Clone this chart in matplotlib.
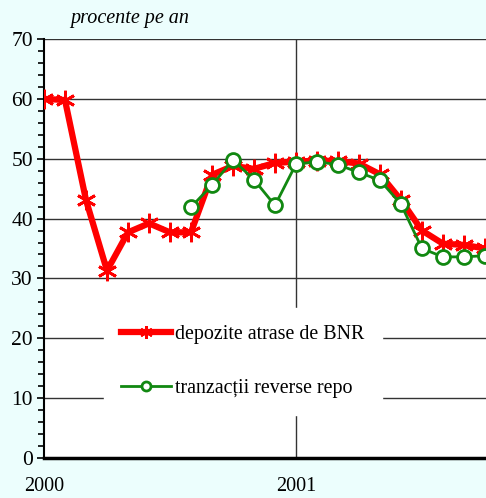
import numpy as np
import matplotlib.pyplot as plt
from matplotlib.ticker import MultipleLocator

plt.rcParams['font.family'] = ['Liberation Serif', 'DejaVu Serif']

# months since Jan 2000
luni = list(range(22))
depozite = [60.0, 59.8, 43.1, 31.3, 37.7, 39.2, 37.7, 37.7, 47.3, 48.8, 48.3,
            49.3, 49.5, 49.7, 49.6, 49.2, 47.4, 43.1, 38.0, 35.8, 35.6, 35.0]
luni_repo = list(range(7, 22))
repo = [41.9, 45.6, 49.8, 46.5, 42.2, 49.1, 49.5, 49.0, 47.7, 46.4, 42.4,
        35.0, 33.6, 33.6, 33.8]

bg = '#ecfefd'
fig = plt.figure(figsize=(4.86, 4.98), dpi=100, facecolor=bg)
ax = fig.add_axes([44/486, 1 - 458/498, 1 - 44/486, (458 - 39)/498])
ax.set_facecolor('white')

ax.set_xlim(0, 21.05)
ax.set_ylim(0, 70)

# grid
for v in range(10, 71, 10):
    ax.axhline(v, color='#333333', lw=1.0, zorder=1)
ax.axvline(12, color='#333333', lw=1.0, zorder=1)

ax.plot(luni, depozite, color='#ff0000', lw=4.5, marker=(6, 2, 0),
        markersize=14, markeredgewidth=2, zorder=3,
        label='depozite atrase de BNR')
ax.plot(luni_repo, repo, color='#118811', lw=2, marker='o', markersize=10,
        markerfacecolor='white', markeredgecolor='#118811',
        markeredgewidth=2, zorder=4, label='tranzacții reverse repo')

for s in ['top', 'right']:
    ax.spines[s].set_visible(False)
ax.spines['left'].set_linewidth(1.5)
ax.spines['bottom'].set_linewidth(2.5)

ax.yaxis.set_major_locator(MultipleLocator(10))
ax.yaxis.set_minor_locator(MultipleLocator(2))
ax.tick_params(axis='y', which='major', length=5, width=1.2, labelsize=15.5, pad=3)
ax.tick_params(axis='y', which='minor', length=4, width=1.2)
ax.set_xticks([0, 12])
ax.set_xticklabels(['2000', '2001'])
ax.tick_params(axis='x', length=0, labelsize=14.5, pad=14)

fig.text(70/486, 1 - 19/498, 'procente pe an', fontsize=14.5, style='italic',
         ha='left', va='center')

cx = (243 - 44) / (486 - 44)
cy = (458 - 361) / (458 - 39)
leg = ax.legend(loc='center', bbox_to_anchor=(cx, cy), frameon=True,
                fontsize=14.4, labelspacing=1.75, handlelength=2.5,
                handletextpad=0.2, borderpad=0.85, borderaxespad=0,
                markerscale=0.65)
leg.get_frame().set_facecolor('white')
leg.get_frame().set_edgecolor('white')
leg.get_frame().set_alpha(1)
leg.get_frame().set_boxstyle('square', pad=0)
leg.set_zorder(5)

fig.savefig('out.png', dpi=100, facecolor=bg)
